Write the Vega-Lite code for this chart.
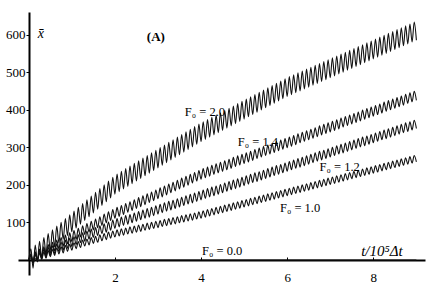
{
  "$schema": "https://vega.github.io/schema/vega-lite/v6.json",
  "width": 407,
  "height": 263,
  "autosize": "none",
  "padding": {"left": 18, "top": 12, "right": 7, "bottom": 16},
  "background": "white",
  "config": {"view": {"stroke": null}},
  "encoding": {
    "x": {"field": "t", "type": "quantitative", "scale": {"domain": [-0.25, 9.2], "nice": false, "zero": false},
      "axis": {"values": [2, 4, 6, 8], "offset": -15, "domainColor": "#000", "domainWidth": 1.8, "tickColor": "#000", "tickSize": -3, "tickWidth": 1, "labelPadding": 14, "labelFont": "Liberation Serif", "labelFontSize": 13, "labelColor": "#000", "title": null, "grid": false, "labelFlush": false}},
    "y": {"field": "v", "type": "quantitative", "scale": {"domain": [-40, 660], "nice": false, "zero": false},
      "axis": {"values": [100, 200, 300, 400, 500, 600], "offset": -11, "domainColor": "#000", "domainWidth": 2, "tickColor": "#000", "tickSize": 3, "tickWidth": 1, "labelPadding": 1, "labelFont": "Liberation Serif", "labelFontSize": 13, "labelColor": "#000", "title": null, "grid": false, "labelFlush": false}}
  },
  "layer": [
    {
      "data": {"values": [
{"t":0,"a":0,"b":0,"c":0,"d":0},
{"t":0.05,"a":30,"b":16,"c":14,"d":11},
{"t":0.1,"a":-22,"b":-7,"c":-7,"d":-6},
{"t":0.15,"a":40,"b":22,"c":19,"d":14},
{"t":0.2,"a":-5,"b":-1,"c":-2,"d":-2},
{"t":0.25,"a":50,"b":29,"c":24,"d":18},
{"t":0.3,"a":5,"b":6,"c":2,"d":2},
{"t":0.35,"a":60,"b":35,"c":29,"d":21},
{"t":0.4,"a":15,"b":12,"c":7,"d":5},
{"t":0.45,"a":70,"b":41,"c":34,"d":25},
{"t":0.5,"a":25,"b":18,"c":12,"d":9},
{"t":0.55,"a":80,"b":47,"c":38,"d":28},
{"t":0.6,"a":35,"b":24,"c":17,"d":12},
{"t":0.65,"a":90,"b":53,"c":43,"d":32},
{"t":0.7,"a":45,"b":30,"c":22,"d":16},
{"t":0.75,"a":100,"b":60,"c":48,"d":35},
{"t":0.8,"a":55,"b":37,"c":26,"d":19},
{"t":0.85,"a":110,"b":66,"c":53,"d":39},
{"t":0.9,"a":65,"b":43,"c":31,"d":23},
{"t":0.95,"a":120,"b":72,"c":58,"d":42},
{"t":1.0,"a":75,"b":49,"c":36,"d":26},
{"t":1.05,"a":130,"b":78,"c":62,"d":46},
{"t":1.1,"a":85,"b":55,"c":41,"d":30},
{"t":1.15,"a":140,"b":84,"c":67,"d":49},
{"t":1.2,"a":95,"b":61,"c":46,"d":33},
{"t":1.25,"a":150,"b":91,"c":72,"d":53},
{"t":1.3,"a":105,"b":68,"c":50,"d":37},
{"t":1.35,"a":160,"b":97,"c":77,"d":56},
{"t":1.4,"a":115,"b":74,"c":55,"d":40},
{"t":1.45,"a":170,"b":103,"c":82,"d":60},
{"t":1.5,"a":125,"b":80,"c":60,"d":44},
{"t":1.55,"a":180,"b":109,"c":86,"d":63},
{"t":1.6,"a":135,"b":86,"c":65,"d":47},
{"t":1.65,"a":190,"b":115,"c":91,"d":67},
{"t":1.7,"a":145,"b":92,"c":70,"d":51},
{"t":1.75,"a":200,"b":122,"c":96,"d":70},
{"t":1.8,"a":155,"b":99,"c":74,"d":54},
{"t":1.85,"a":210,"b":128,"c":101,"d":74},
{"t":1.9,"a":165,"b":105,"c":79,"d":58},
{"t":1.95,"a":220,"b":134,"c":106,"d":77},
{"t":2.0,"a":175,"b":111,"c":84,"d":61},
{"t":2.05,"a":229,"b":140,"c":110,"d":80},
{"t":2.1,"a":182,"b":116,"c":88,"d":64},
{"t":2.15,"a":236,"b":145,"c":114,"d":83},
{"t":2.2,"a":189,"b":121,"c":92,"d":66},
{"t":2.25,"a":243,"b":150,"c":118,"d":85},
{"t":2.3,"a":196,"b":127,"c":95,"d":69},
{"t":2.35,"a":250,"b":155,"c":121,"d":88},
{"t":2.4,"a":203,"b":132,"c":99,"d":71},
{"t":2.45,"a":257,"b":160,"c":125,"d":90},
{"t":2.5,"a":210,"b":137,"c":103,"d":74},
{"t":2.55,"a":264,"b":166,"c":129,"d":93},
{"t":2.6,"a":217,"b":142,"c":107,"d":76},
{"t":2.65,"a":271,"b":171,"c":133,"d":95},
{"t":2.7,"a":224,"b":147,"c":111,"d":79},
{"t":2.75,"a":278,"b":176,"c":137,"d":98},
{"t":2.8,"a":231,"b":153,"c":114,"d":81},
{"t":2.85,"a":285,"b":181,"c":140,"d":100},
{"t":2.9,"a":238,"b":158,"c":118,"d":84},
{"t":2.95,"a":292,"b":186,"c":144,"d":103},
{"t":3.0,"a":245,"b":163,"c":122,"d":86},
{"t":3.05,"a":299,"b":192,"c":148,"d":105},
{"t":3.1,"a":252,"b":168,"c":126,"d":89},
{"t":3.15,"a":306,"b":197,"c":152,"d":108},
{"t":3.2,"a":259,"b":173,"c":130,"d":91},
{"t":3.25,"a":313,"b":202,"c":156,"d":110},
{"t":3.3,"a":266,"b":179,"c":133,"d":94},
{"t":3.35,"a":320,"b":207,"c":159,"d":113},
{"t":3.4,"a":273,"b":184,"c":137,"d":96},
{"t":3.45,"a":327,"b":212,"c":163,"d":115},
{"t":3.5,"a":280,"b":189,"c":141,"d":99},
{"t":3.55,"a":334,"b":218,"c":167,"d":118},
{"t":3.6,"a":287,"b":194,"c":145,"d":101},
{"t":3.65,"a":341,"b":223,"c":171,"d":120},
{"t":3.7,"a":294,"b":199,"c":149,"d":104},
{"t":3.75,"a":348,"b":228,"c":175,"d":123},
{"t":3.8,"a":301,"b":205,"c":152,"d":106},
{"t":3.85,"a":355,"b":233,"c":178,"d":125},
{"t":3.9,"a":308,"b":210,"c":156,"d":109},
{"t":3.95,"a":362,"b":238,"c":182,"d":128},
{"t":4.0,"a":315,"b":215,"c":160,"d":111},
{"t":4.05,"a":368,"b":243,"c":186,"d":131},
{"t":4.1,"a":321,"b":219,"c":164,"d":114},
{"t":4.15,"a":374,"b":247,"c":190,"d":134},
{"t":4.2,"a":327,"b":223,"c":168,"d":117},
{"t":4.25,"a":380,"b":252,"c":194,"d":137},
{"t":4.3,"a":333,"b":228,"c":171,"d":120},
{"t":4.35,"a":386,"b":256,"c":197,"d":140},
{"t":4.4,"a":339,"b":232,"c":175,"d":123},
{"t":4.45,"a":392,"b":260,"c":201,"d":143},
{"t":4.5,"a":345,"b":236,"c":179,"d":126},
{"t":4.55,"a":398,"b":264,"c":205,"d":146},
{"t":4.6,"a":351,"b":240,"c":183,"d":129},
{"t":4.65,"a":404,"b":268,"c":209,"d":149},
{"t":4.7,"a":357,"b":244,"c":187,"d":132},
{"t":4.75,"a":410,"b":273,"c":213,"d":152},
{"t":4.8,"a":363,"b":249,"c":190,"d":135},
{"t":4.85,"a":416,"b":277,"c":216,"d":155},
{"t":4.9,"a":369,"b":253,"c":194,"d":138},
{"t":4.95,"a":422,"b":281,"c":220,"d":158},
{"t":5.0,"a":375,"b":257,"c":198,"d":141},
{"t":5.05,"a":428,"b":285,"c":224,"d":161},
{"t":5.1,"a":381,"b":261,"c":202,"d":144},
{"t":5.15,"a":434,"b":289,"c":228,"d":164},
{"t":5.2,"a":387,"b":265,"c":206,"d":147},
{"t":5.25,"a":440,"b":294,"c":232,"d":167},
{"t":5.3,"a":393,"b":270,"c":209,"d":150},
{"t":5.35,"a":446,"b":298,"c":235,"d":170},
{"t":5.4,"a":399,"b":274,"c":213,"d":153},
{"t":5.45,"a":452,"b":302,"c":239,"d":173},
{"t":5.5,"a":405,"b":278,"c":217,"d":156},
{"t":5.55,"a":458,"b":306,"c":243,"d":176},
{"t":5.6,"a":411,"b":282,"c":221,"d":159},
{"t":5.65,"a":464,"b":310,"c":247,"d":179},
{"t":5.7,"a":417,"b":286,"c":225,"d":162},
{"t":5.75,"a":470,"b":315,"c":251,"d":182},
{"t":5.8,"a":423,"b":291,"c":228,"d":165},
{"t":5.85,"a":476,"b":319,"c":254,"d":185},
{"t":5.9,"a":429,"b":295,"c":232,"d":168},
{"t":5.95,"a":482,"b":323,"c":258,"d":188},
{"t":6.0,"a":435,"b":299,"c":236,"d":171},
{"t":6.05,"a":488,"b":327,"c":262,"d":191},
{"t":6.1,"a":440,"b":303,"c":240,"d":174},
{"t":6.15,"a":493,"b":331,"c":266,"d":194},
{"t":6.2,"a":445,"b":307,"c":244,"d":177},
{"t":6.25,"a":498,"b":336,"c":270,"d":197},
{"t":6.3,"a":450,"b":312,"c":247,"d":180},
{"t":6.35,"a":503,"b":340,"c":273,"d":200},
{"t":6.4,"a":455,"b":316,"c":251,"d":183},
{"t":6.45,"a":508,"b":344,"c":277,"d":203},
{"t":6.5,"a":460,"b":320,"c":255,"d":186},
{"t":6.55,"a":513,"b":348,"c":281,"d":206},
{"t":6.6,"a":465,"b":324,"c":259,"d":189},
{"t":6.65,"a":518,"b":352,"c":285,"d":209},
{"t":6.7,"a":470,"b":328,"c":263,"d":192},
{"t":6.75,"a":523,"b":357,"c":289,"d":212},
{"t":6.8,"a":475,"b":333,"c":266,"d":195},
{"t":6.85,"a":528,"b":361,"c":292,"d":215},
{"t":6.9,"a":480,"b":337,"c":270,"d":198},
{"t":6.95,"a":533,"b":365,"c":296,"d":218},
{"t":7.0,"a":485,"b":341,"c":274,"d":201},
{"t":7.05,"a":538,"b":369,"c":300,"d":221},
{"t":7.1,"a":490,"b":345,"c":278,"d":204},
{"t":7.15,"a":543,"b":373,"c":304,"d":224},
{"t":7.2,"a":495,"b":349,"c":282,"d":207},
{"t":7.25,"a":548,"b":378,"c":308,"d":227},
{"t":7.3,"a":500,"b":354,"c":285,"d":210},
{"t":7.35,"a":553,"b":382,"c":311,"d":230},
{"t":7.4,"a":505,"b":358,"c":289,"d":213},
{"t":7.45,"a":558,"b":386,"c":315,"d":233},
{"t":7.5,"a":510,"b":362,"c":293,"d":216},
{"t":7.55,"a":563,"b":390,"c":319,"d":236},
{"t":7.6,"a":515,"b":366,"c":297,"d":219},
{"t":7.65,"a":568,"b":394,"c":323,"d":239},
{"t":7.7,"a":520,"b":370,"c":301,"d":222},
{"t":7.75,"a":573,"b":399,"c":327,"d":242},
{"t":7.8,"a":525,"b":375,"c":304,"d":225},
{"t":7.85,"a":578,"b":403,"c":330,"d":245},
{"t":7.9,"a":530,"b":379,"c":308,"d":228},
{"t":7.95,"a":583,"b":407,"c":334,"d":248},
{"t":8.0,"a":535,"b":383,"c":312,"d":231},
{"t":8.05,"a":588,"b":411,"c":338,"d":251},
{"t":8.1,"a":540,"b":387,"c":316,"d":234},
{"t":8.15,"a":593,"b":415,"c":342,"d":254},
{"t":8.2,"a":545,"b":391,"c":320,"d":237},
{"t":8.25,"a":598,"b":420,"c":346,"d":257},
{"t":8.3,"a":550,"b":396,"c":323,"d":240},
{"t":8.35,"a":603,"b":424,"c":349,"d":260},
{"t":8.4,"a":555,"b":400,"c":327,"d":243},
{"t":8.45,"a":608,"b":428,"c":353,"d":263},
{"t":8.5,"a":560,"b":404,"c":331,"d":246},
{"t":8.55,"a":613,"b":432,"c":357,"d":266},
{"t":8.6,"a":565,"b":408,"c":335,"d":249},
{"t":8.65,"a":618,"b":436,"c":361,"d":269},
{"t":8.7,"a":570,"b":412,"c":339,"d":252},
{"t":8.75,"a":623,"b":441,"c":365,"d":272},
{"t":8.8,"a":575,"b":417,"c":342,"d":255},
{"t":8.85,"a":628,"b":445,"c":368,"d":275},
{"t":8.9,"a":580,"b":421,"c":346,"d":258},
{"t":8.95,"a":633,"b":449,"c":372,"d":278},
{"t":9.0,"a":585,"b":425,"c":350,"d":261}
      ]},
      "transform": [{"fold": ["a", "b", "c", "d"], "as": ["k", "v"]}],
      "mark": {"type": "line", "interpolate": "monotone", "color": "#111", "strokeWidth": 1.1},
      "encoding": {"detail": {"field": "k", "type": "nominal"}}
    },
    {
      "data": {"values": [
        {"t": 0, "v": 0}, {"t": 0.05, "v": 6}, {"t": 0.1, "v": -8}, {"t": 0.15, "v": 4}, {"t": 0.2, "v": -3}, {"t": 0.25, "v": 0}, {"t": 9, "v": 0}
      ]},
      "mark": {"type": "line", "interpolate": "monotone", "color": "#111", "strokeWidth": 1.1},
      "encoding": {}
    },
    {
      "data": {"values": [
        {"t": 4.09, "v": 394, "label": "F₀ = 2.0"},
        {"t": 5.32, "v": 314, "label": "F₀ = 1.4"},
        {"t": 7.22, "v": 248, "label": "F₀ = 1.2"},
        {"t": 6.30, "v": 138, "label": "F₀ = 1.0"},
        {"t": 4.49, "v": 24, "label": "F₀ = 0.0"}
      ]},
      "mark": {"type": "text", "font": "Liberation Serif", "fontSize": 12.5, "color": "#000", "align": "center", "baseline": "middle"},
      "encoding": {"text": {"field": "label", "type": "nominal"}}
    },
    {
      "data": {"values": [{"t": 8.2, "v": 24, "label": "t/10⁵Δt"}]},
      "mark": {"type": "text", "font": "Liberation Serif", "fontSize": 15, "fontStyle": "italic", "color": "#000", "align": "center", "baseline": "middle"},
      "encoding": {"text": {"field": "label", "type": "nominal"}}
    },
    {
      "data": {"values": [{"t": 2.95, "v": 594, "label": "(A)"}]},
      "mark": {"type": "text", "font": "Liberation Serif", "fontSize": 13, "fontWeight": "bold", "color": "#000", "align": "center", "baseline": "middle"},
      "encoding": {"text": {"field": "label", "type": "nominal"}}
    },
    {
      "data": {"values": [{"t": 0.28, "v": 602, "label": "x̄"}]},
      "mark": {"type": "text", "font": "Liberation Serif", "fontSize": 14, "fontStyle": "italic", "color": "#000", "align": "center", "baseline": "middle"},
      "encoding": {"text": {"field": "label", "type": "nominal"}}
    }
  ]
}
